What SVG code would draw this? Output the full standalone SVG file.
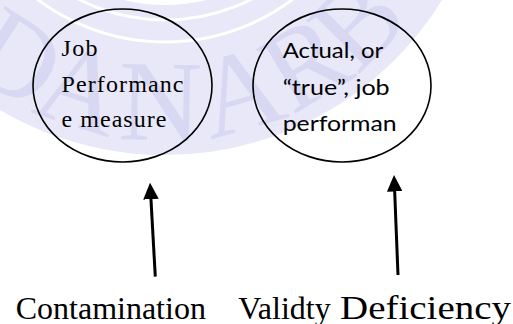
<svg xmlns="http://www.w3.org/2000/svg" width="513" height="324" viewBox="0 0 513 324">
  <defs>
    <style>
      .seal-band { fill: none; stroke: #e8e8f8; stroke-width: 150; }
      .seal-line { fill: none; stroke: #ffffff; stroke-width: 3; }
      .seal-letter { font-family: 'Liberation Serif', serif; font-size: 115px; fill: #d8d8f2; text-anchor: middle; }
      .node-shape { fill: none; stroke: #000000; stroke-width: 1.6; }
      .times { font-family: 'Liberation Serif', serif; fill: #000000; }
      .calibri { font-family: Lato, 'Open Sans', sans-serif; fill: #000000; }
      .conn { fill: none; stroke: #000000; stroke-width: 3; }
    </style>
    <marker id="arrowhead" markerUnits="userSpaceOnUse" markerWidth="16.5" markerHeight="15.5"
            viewBox="0 0 16.5 15.5" refX="4.5" refY="7.75" orient="auto">
      <path d="M0,0 L16.5,7.75 L0,15.5 z" fill="#000000"/>
    </marker>
  </defs>

  <rect width="513" height="324" fill="#ffffff"/>

  <!-- faint seal in the background -->
  <g id="seal">
    <circle class="seal-band" cx="165" cy="-170" r="250"/>
    <circle class="seal-line" cx="165" cy="-170" r="212"/>
    <circle class="seal-line" cx="165" cy="-170" r="190"/>
    <text class="seal-letter" x="165" y="140" transform="rotate(33 165 -170)">D</text>
    <text class="seal-letter" x="165" y="140" transform="rotate(18 165 -170)">A</text>
    <text class="seal-letter" x="165" y="140" transform="rotate(1 165 -170)">N</text>
    <text class="seal-letter" x="165" y="140" transform="rotate(-16 165 -170)">A</text>
    <text class="seal-letter" x="165" y="140" transform="rotate(-31 165 -170)">R</text>
    <text class="seal-letter" x="165" y="140" transform="rotate(-45 165 -170)">B</text>
  </g>

  <!-- measure node -->
  <g id="node-measure">
    <ellipse class="node-shape" cx="122.5" cy="85.5" rx="89.5" ry="76.5"/>
    <text class="times" font-size="24">
      <tspan x="61.5" y="56" textLength="36" lengthAdjust="spacing">Job</tspan>
      <tspan x="61.5" y="92" textLength="122" lengthAdjust="spacing">Performanc</tspan>
      <tspan x="61.5" y="127" textLength="105" lengthAdjust="spacing">e measure</tspan>
    </text>
  </g>

  <!-- true performance node -->
  <g id="node-true">
    <ellipse class="node-shape" cx="342" cy="85.5" rx="89" ry="76.5"/>
    <text class="calibri" font-size="21">
      <tspan x="282.7" y="58" textLength="100" lengthAdjust="spacingAndGlyphs">Actual, or</tspan>
      <tspan x="282.7" y="95" textLength="107" lengthAdjust="spacingAndGlyphs">“true”, job</tspan>
      <tspan x="282.7" y="131" textLength="114" lengthAdjust="spacingAndGlyphs">performan</tspan>
    </text>
  </g>

  <!-- labels along the bottom -->
  <g id="label-contamination">
    <text class="times" font-size="32" x="15.7" y="318.5">Contamination</text>
  </g>
  <g id="label-validity">
    <text class="times" font-size="32" x="238.3" y="318.5">Validty</text>
  </g>
  <g id="label-deficiency">
    <text class="times" font-size="33" x="340" y="318.5" textLength="171" lengthAdjust="spacingAndGlyphs">Deficiency</text>
  </g>

  <!-- connectors -->
  <g id="connectors">
    <path class="conn" d="M155.3,276.7 L150.7,194.7" marker-end="url(#arrowhead)"/>
    <path class="conn" d="M398,275 L394.5,187" marker-end="url(#arrowhead)"/>
  </g>
</svg>
